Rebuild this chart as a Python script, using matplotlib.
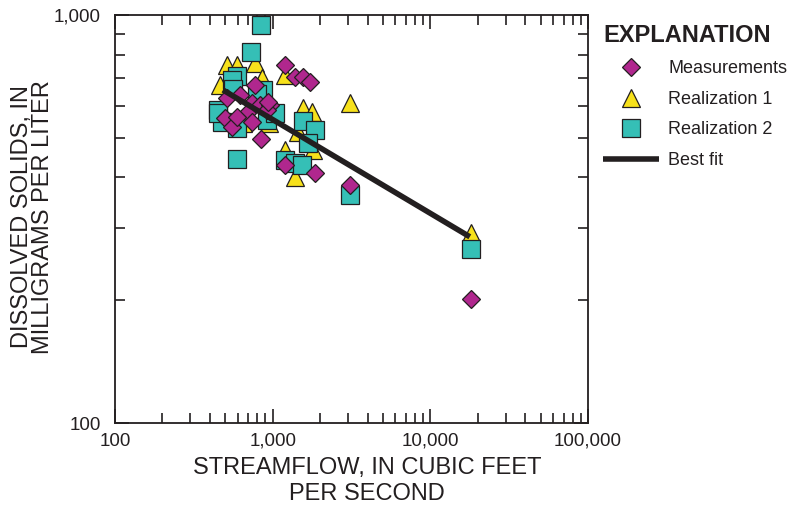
import numpy as np
import matplotlib
matplotlib.use("Agg")
import matplotlib.pyplot as plt
from matplotlib.ticker import FixedLocator, FuncFormatter, NullFormatter

plt.rcParams['font.family'] = ['Liberation Sans', 'DejaVu Sans']

ink = '#231f20'

# measurements (diamonds)
meas_q = [1197, 1384, 1556, 1725, 772, 621, 513, 739, 830, 961, 920, 933, 687, 498,
          552, 739, 594, 843, 1197, 1855, 3100, 18000]
meas_ds = [754, 705, 705, 685, 674, 636, 626, 608, 602, 602, 585, 612, 575, 559,
           531, 547, 562, 497, 429, 410, 383, 201]

# realization 1 (triangles)
real1_q = [513, 594, 772, 1197, 855, 463, 3100, 1556, 1775, 1446, 1803, 1197, 1384,
           650, 950, 18000]
real1_ds = [754, 754, 763, 713, 701, 674, 608, 592, 578, 517, 467, 467, 401,
            545, 545, 292]

# realization 2 (squares)
real2_q = [843, 728, 594, 552, 867, 450, 477, 594, 920, 1035, 594, 1556, 1855, 1675,
           1197, 1384, 1535, 3100, 18000, 560, 800, 450]
real2_ds = [945, 812, 709, 693, 655, 585, 547, 528, 553, 575, 444, 550, 523, 486,
            441, 434, 429, 362, 267, 660, 640, 575]

# best fit line ends
fit_q = [484, 17800]
fit_ds = [655, 286]

fig = plt.figure(figsize=(7.93, 5.08), dpi=100)
ax = fig.add_axes([0.145, 0.1673, 0.5965, 0.8032])

ax.plot(real1_q, real1_ds, ls='none', marker='^', ms=13, mfc='#f7e11b', mec=ink,
        mew=0.9, label='Realization 1', zorder=3, clip_on=False)
ax.plot(real2_q, real2_ds, ls='none', marker='s', ms=12.5, mfc='#35bfb6', mec=ink,
        mew=0.9, label='Realization 2', zorder=4, clip_on=False)
ax.plot(meas_q, meas_ds, ls='none', marker='D', ms=9.3, mfc='#b0278e', mec=ink,
        mew=0.9, label='Measurements', zorder=5, clip_on=False)
ax.plot(fit_q, fit_ds, color=ink, lw=4, label='Best fit', zorder=6,
        solid_capstyle='butt')

ax.set_xscale('log')
ax.set_yscale('log')
ax.set_xlim(100, 100000)
ax.set_ylim(100, 1000)

fmt = FuncFormatter(lambda v, p: '{:,}'.format(int(round(v))))
ax.xaxis.set_major_locator(FixedLocator([100, 1000, 10000, 100000]))
ax.yaxis.set_major_locator(FixedLocator([100, 1000]))
ax.xaxis.set_major_formatter(fmt)
ax.yaxis.set_major_formatter(fmt)
ax.xaxis.set_minor_formatter(NullFormatter())
ax.yaxis.set_minor_formatter(NullFormatter())

ax.tick_params(which='both', direction='in', top=True, right=True, color=ink,
               labelsize=13.5, labelcolor=ink, width=1.2)
ax.tick_params(which='major', length=10)
ax.tick_params(axis='x', which='major', pad=7)
ax.tick_params(axis='y', which='major', pad=10)
ax.tick_params(which='minor', length=7)
for s in ax.spines.values():
    s.set_color(ink)
    s.set_linewidth(1.3)

ax.set_xlabel('STREAMFLOW, IN CUBIC FEET\nPER SECOND', fontsize=17, color=ink,
              linespacing=1.25)
ax.set_ylabel('DISSOLVED SOLIDS, IN\nMILLIGRAMS PER LITER', fontsize=17, color=ink,
              linespacing=0.95)
ax.xaxis.set_label_coords(0.533, -0.083)
ax.yaxis.set_label_coords(-0.129, 0.505)

handles, labels = ax.get_legend_handles_labels()
order = [2, 0, 1, 3]
leg = fig.legend([handles[i] for i in order], [labels[i] for i in order],
                 loc='upper left', bbox_to_anchor=(0.74, 0.985), frameon=False,
                 fontsize=13, title='EXPLANATION', handlelength=3.1,
                 handletextpad=0.5, labelspacing=0.75, alignment='left',
                 title_fontproperties={'weight': 'bold', 'size': 17})
for t in leg.get_texts():
    t.set_color(ink)
leg.get_title().set_color(ink)

fig.savefig('out.png', dpi=100)
